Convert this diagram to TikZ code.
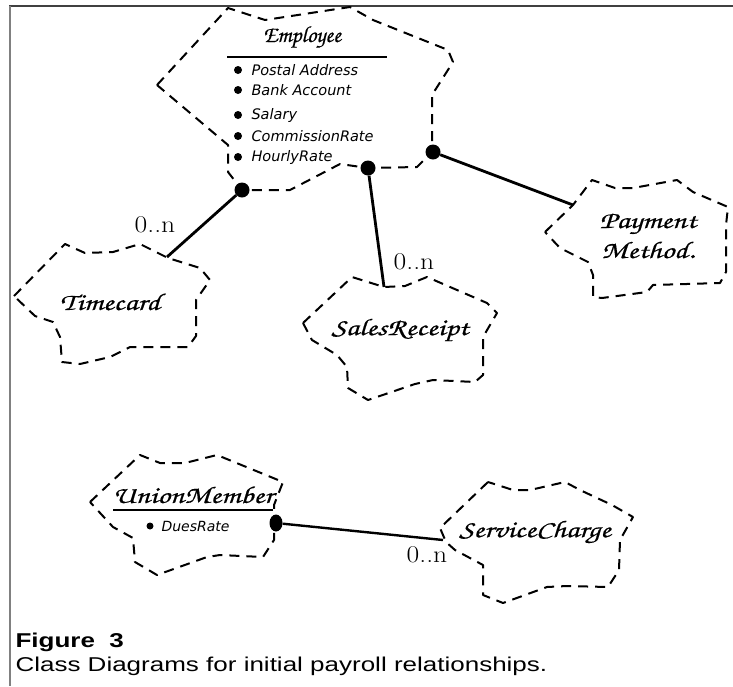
\documentclass[tikz,border=0pt]{standalone}
\usepackage{fontspec}
\setsansfont{Liberation Sans}[FakeStretch=1.3]
\newfontfamily\chorus{TeX Gyre Chorus}[FakeBold=0.5]
\newfontfamily\chorusw{TeX Gyre Chorus}[FakeBold=0.5, FakeStretch=1.3]
\newfontfamily\hand{DejaVu Sans}
\newfontfamily\multfont{Latin Modern Roman}[FakeStretch=1.15]
\usetikzlibrary{shapes.geometric}

\begin{document}
\begin{tikzpicture}[x=1pt, y=-1pt, line join=round,
  cloud/.style={dash pattern=on 10pt off 7pt, line width=2pt},
  link/.style={line width=2.8pt},
  dot/.style={circle, fill, inner sep=0pt, minimum size=15pt},
  cname/.style={font=\chorusw\fontsize{24}{30}\selectfont},
  attr/.style={anchor=west, font=\hand\itshape\fontsize{14.5}{16}\selectfont},
  mult/.style={font=\multfont\fontsize{24}{26}\selectfont}]
\useasboundingbox (0,0) rectangle (733,686);
\draw[black!75, line width=1.3pt] (9,6) -- (733,6);
\draw[black!50, line width=2pt] (10,6) -- (10,686);

% Employee
\draw[cloud] (157,85) -- (228,8) -- (265,20) -- (350,7) -- (373,20) -- (448,50) -- (453,62) -- (432,95) -- (432,152) -- (417,167) -- (368,168) -- (340,164) -- (290,190) -- (242,190) -- (228,172) -- (228,145) -- cycle;
\node[font=\chorus\fontsize{23}{26}\selectfont] (emp) at (302,37) {Employee};
\draw[line width=2.2pt] (227,57) -- (387,57);
\fill (238,70) circle (4pt);  \node[attr] (a1) at (248,70) {Postal Address};
\fill (238,90) circle (4pt);  \node[attr] (a2) at (248,90) {Bank Account};
\fill (238,115) circle (4pt); \node[attr] (a3) at (248,115) {Salary};
\fill (238,136) circle (4pt); \node[attr] (a4) at (248,136) {CommissionRate};
\fill (238,157) circle (4pt); \node[attr] (a5) at (248,157) {HourlyRate};
\node[dot] (eTc) at (242,190) {};
\node[dot] (eSr) at (368,168) {};
\node[dot] (ePm) at (433,152) {};

% Timecard
\draw[cloud] (14,296) -- (65,244) -- (85,253) -- (113,252) -- (140,244) -- (168,258) -- (200,268) -- (210,280) -- (196,300) -- (196,336) -- (188,347) -- (130,347) -- (110,357) -- (80,364) -- (62,362) -- (60,337) -- (53,322) -- (35,316) -- cycle;
\node[cname] (tc) at (110,302) {Timecard};
\coordinate (tcTop) at (167,257);

% SalesReceipt
\draw[cloud] (303,323) -- (352,277) -- (384,287) -- (405,286) -- (427,277) -- (487,303) -- (497,313) -- (483,337) -- (483,375) -- (475,382) -- (433,380) -- (415,384) -- (368,400) -- (348,388) -- (347,367) -- (337,355) -- (312,340) -- cycle;
\node[cname] (sr) at (400,330) {SalesReceipt};
\coordinate (srTop) at (384,287);

% Payment Method
\draw[cloud] (545,232) -- (573,205) -- (592,180) -- (615,188) -- (633,188) -- (677,180) -- (693,192) -- (728,207) -- (726,225) -- (726,272) -- (720,283) -- (653,285) -- (647,292) -- (602,298) -- (593,297) -- (593,275) -- (588,262) -- (560,248) -- cycle;
\node[cname, align=center] (pm) at (648,236) {Payment\\Method.};
\coordinate (pmTop) at (573,205);

\draw[link] (eTc) -- (tcTop);
\draw[link] (eSr) -- (srTop);
\draw[link] (ePm) -- (pmTop);
\node[mult] (tcMult) at (155,225) {0..n};
\node[mult] (srMult) at (414,262) {0..n};

% UnionMember
\draw[cloud] (90,502) -- (140,455) -- (160,463) -- (185,463) -- (217,455) -- (283,482) -- (274,505) -- (274,540) -- (263,557) -- (220,555) -- (207,557) -- (157,575) -- (135,562) -- (133,538) -- (113,527) -- cycle;
\node[cname] (um) at (193,495) {UnionMember};
\draw[line width=2.2pt] (113,510) -- (273,510);
\fill (150,526) circle (3.5pt); \node[attr, font=\hand\itshape\fontsize{14}{16}\selectfont] (a6) at (158,526) {DuesRate};
\node[dot, ellipse, minimum width=13pt, minimum height=17pt] (uSc) at (276,523) {};

% ServiceCharge
\draw[cloud] (488,482) -- (440,528) -- (446,542) -- (455,550) -- (483,565) -- (483,595) -- (503,603) -- (547,587) -- (567,586) -- (608,587) -- (619,570) -- (620,540) -- (633,517) -- (612,505) -- (580,490) -- (565,482) -- (530,490) -- (513,490) -- cycle;
\node[cname] (sc) at (535,532) {ServiceCharge};
\coordinate (scEnd) at (443,540);
\draw[line width=2.4pt] (uSc) -- (scEnd);
\node[mult] (scMult) at (427,555) {0..n};

% caption
\node[anchor=base west, font=\sffamily\bfseries\fontsize{20}{22}\selectfont] (fig) at (12,647) {Figure\ \ 3};
\node[anchor=base west, font=\sffamily\fontsize{20}{22}\selectfont] (cap) at (12,671) {Class Diagrams for initial payroll relationships.};
\end{tikzpicture}
\end{document}
